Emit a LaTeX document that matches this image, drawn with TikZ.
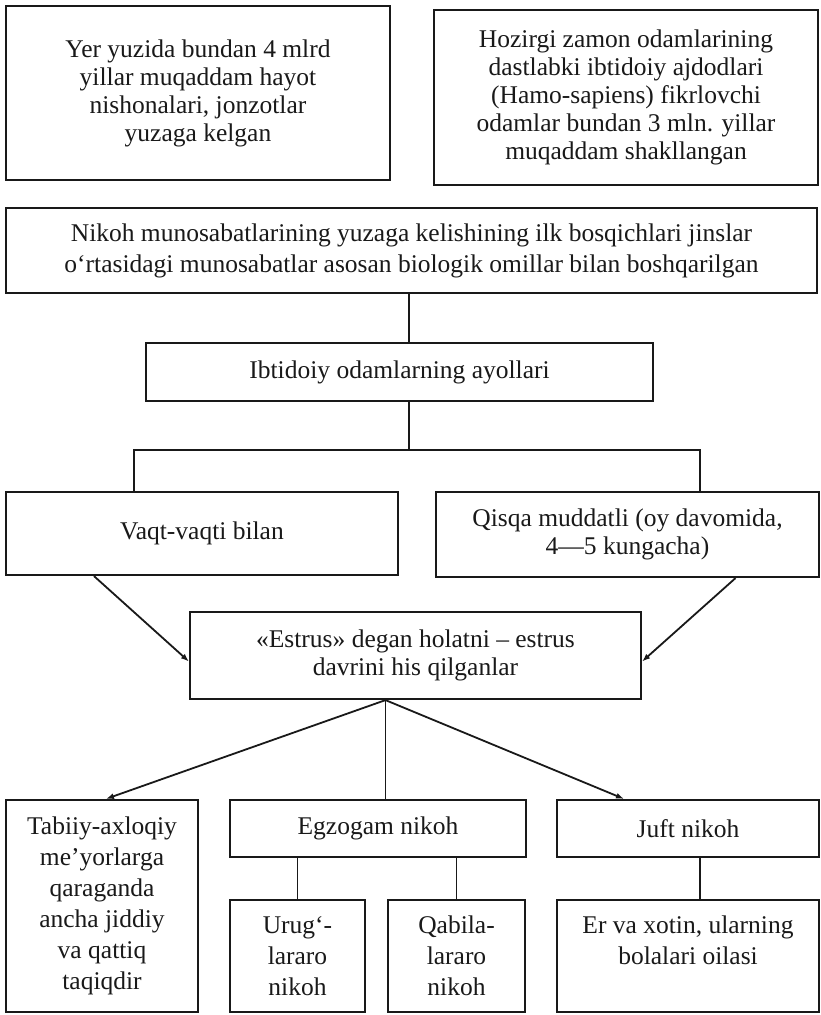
\documentclass[tikz,border=0pt]{standalone}
\usepackage{fontspec}
\setmainfont{Liberation Serif}
\usetikzlibrary{arrows.meta, positioning}
\definecolor{chartInk}{RGB}{25,25,25}

\begin{document}
\begin{tikzpicture}[x=1pt, y=-1pt,
      stage/.style={draw=chartInk, line width=2.2pt, align=center, inner sep=2pt,
      font=\fontsize{25.5}{28}\selectfont, text=chartInk},
      tall/.style={stage, font=\fontsize{25.5}{31}\selectfont},
      link/.style={line width=1.8pt, draw=chartInk},
      arrow/.style={link, -{Latex[length=8pt, width=6pt]}}
    ]
    \useasboundingbox (0,0) rectangle (820,1015);

    \node[stage, minimum width=384pt, minimum height=174pt] (yer) at (198,93) {Yer yuzida bundan 4 mlrd\\yillar muqaddam hayot\\nishonalari, jonzotlar\\yuzaga kelgan};
    \node[stage, minimum width=384pt, minimum height=175pt] (hozir) at (626,97.5) {Hozirgi zamon odamlarining\\dastlabki ibtidoiy ajdodlari\\(Hamo-sapiens) fikrlovchi\\odamlar bundan 3 mln. yillar\\muqaddam shakllangan};
    \node[tall, minimum width=811pt, minimum height=85pt] (nikoh) at (411.5,250.5) {Nikoh munosabatlarining yuzaga kelishining ilk bosqichlari jinslar\\o‘rtasidagi munosabatlar asosan biologik omillar bilan boshqarilgan};
    \node[stage, minimum width=507pt, minimum height=58pt] (ayol) at (399.5,372) {Ibtidoiy odamlarning ayollari};

    \node[stage, minimum width=392pt, minimum height=83pt] (vaqt) at (202,533.5) {Vaqt-vaqti bilan};
    \node[stage, minimum width=383pt, minimum height=85pt] (qisqa) at (627.5,534.5) {Qisqa muddatli (oy davomida,\\4—5 kungacha)};
    \node[stage, minimum width=451pt, minimum height=87pt] (estrus) at (415.5,655.5) {«Estrus» degan holatni – estrus\\davrini his qilganlar};

    \node[tall, minimum width=192pt, minimum height=212pt] (tabiiy) at (102,906) {Tabiiy-axloqiy\\me’yorlarga\\qaraganda\\ancha jiddiy\\va qattiq\\taqiqdir};
    \node[stage, minimum width=296pt, minimum height=57pt] (egzo) at (378,828.5) {Egzogam nikoh};
    \node[stage, minimum width=262pt, minimum height=57pt] (juft) at (688,828.5) {Juft nikoh};
    \node[tall, minimum width=135pt, minimum height=112pt] (urug) at (297.5,956) {Urug‘-\\lararo\\nikoh};
    \node[tall, minimum width=137pt, minimum height=112pt] (qabila) at (456.5,956) {Qabila-\\lararo\\nikoh};
    \node[tall, minimum width=262pt, minimum height=112pt] (oila) at (688,956) {Er va xotin, ularning\\bolalari oilasi\\ \mbox{}};

    % branch points
    \coordinate (split) at (409,450);
    \coordinate (lft) at (134,450);
    \coordinate (rgt) at (700,450);
    \coordinate (hub) at ([xshift=-30pt]estrus.south);

    \draw[link] (nikoh.south -| split) -- (ayol.north -| split);
    \draw[link] (ayol.south -| split) -- (split);
    \draw[link] (vaqt.north -| lft) -- (lft) -- (rgt) -- (qisqa.north -| rgt);
    \draw[arrow] ([xshift=-108pt]vaqt.south) -- ([yshift=-6pt]estrus.west);
    \draw[arrow] ([xshift=108pt]qisqa.south) -- ([yshift=-6pt]estrus.east);
    \draw[arrow] (hub) -- ([xshift=4pt]tabiiy.north);
    \draw[link] (hub) -- (hub |- egzo.north);
    \draw[arrow] (hub) -- ([xshift=-64pt]juft.north);
    \draw[link] (egzo.south -| urug) -- (urug.north);
    \draw[link] (egzo.south -| qabila) -- (qabila.north);
    \draw[link] (juft.south -| rgt) -- (oila.north -| rgt);
  \end{tikzpicture}
\end{document}
